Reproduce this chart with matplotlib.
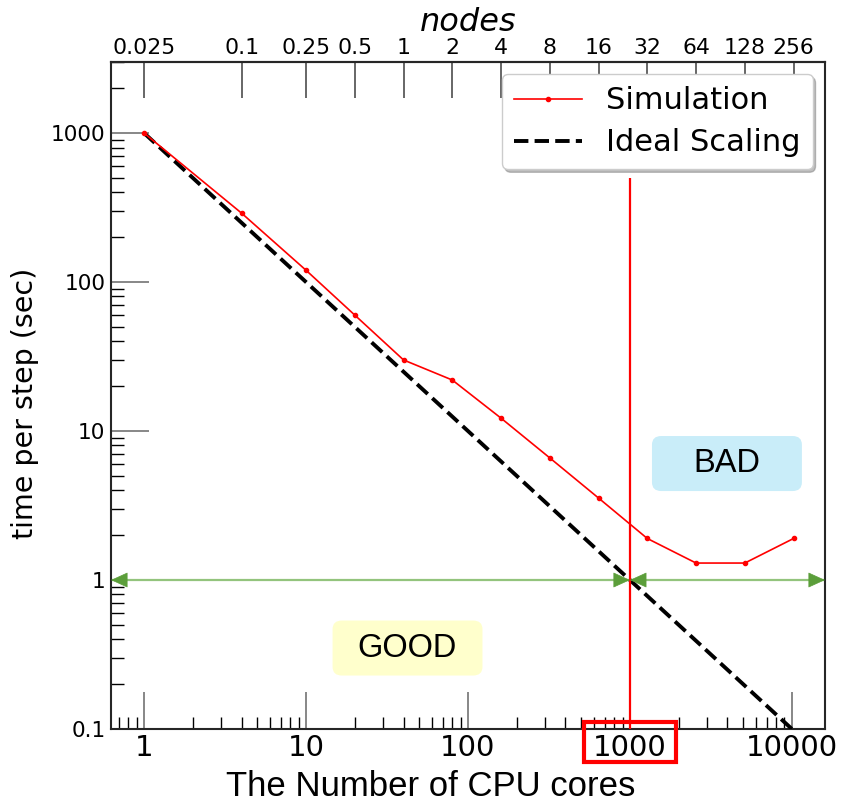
import matplotlib
matplotlib.use("Agg")
import matplotlib.pyplot as plt
from matplotlib.patches import FancyBboxPatch, Rectangle
from matplotlib.ticker import NullLocator, LogLocator
from matplotlib.transforms import IdentityTransform

# measured wall time per step against core count (40 cores per node)
cores = [1, 4, 10, 20, 40, 80, 160, 320, 640, 1280, 2560, 5120, 10240]
time_sim = [1000, 290, 120, 60, 30, 22, 12.2, 6.6, 3.55, 1.9, 1.3, 1.3, 1.9]
time_ideal = [1000 / c for c in cores]

cores_per_node = 40
node_ticks = [0.025, 0.1, 0.25, 0.5, 1, 2, 4, 8, 16, 32, 64, 128, 256]
node_labels = ["0.025", "0.1", "0.25", "0.5", "1", "2", "4", "8", "16", "32", "64", "128", "256"]
core_ticks = [1, 10, 100, 1000, 10000]
core_labels = ["1", "10", "100", "1000", "10000"]
time_ticks = [0.1, 1, 10, 100, 1000]
time_labels = ["0.1", "1", "10", "100", "1000"]

limit_cores = 1000
limit_top = 500

fig = plt.figure(figsize=(8.43, 8.05), dpi=100)
ax = fig.add_axes([0.1317, 0.0944, 0.8469, 0.8286])
ax.set_xscale("log")
ax.set_yscale("log")
ax.set_xlim(0.625, 16000)
ax.set_ylim(0.1, 3000)

ax.plot(cores, time_sim, color="red", lw=1.2, marker="o", ms=3,
        label="Simulation", zorder=4)
ax.plot(cores, time_ideal, color="black", lw=2.8, ls="--",
        label="Ideal Scaling", zorder=3)
ax.vlines(limit_cores, 0.1, limit_top, color="red", lw=1.6, zorder=5)

# good / bad region arrows at t = 1 sec
green_line = "#93c47d"
green_head = "#5b9e3a"
ax.axhline(1, color=green_line, lw=1.6, zorder=2)
head = dict(arrowstyle="-|>,head_length=1.1,head_width=0.5",
            fc=green_head, ec=green_head, lw=0.5, shrinkA=0, shrinkB=0)
for off in (-11, 11):
    ax.annotate("", xy=(limit_cores, 1), xytext=(off, 0),
                textcoords="offset points", arrowprops=head, zorder=6)
for xa, off in [(0, 11), (1, -11)]:
    ax.annotate("", xy=(xa, 1), xycoords=("axes fraction", "data"),
                xytext=(off, 0), textcoords="offset points",
                arrowprops=head, zorder=6, annotation_clip=False)

# region labels
for cx, cy, txt, fc in [(0.8627, 0.398, "BAD", "#c9edf9"),
                        (0.4153, 0.1214, "GOOD", "#ffffcc")]:
    w, h = 0.21, 0.0825
    box = FancyBboxPatch((cx - w / 2, cy - h / 2), w, h,
                         boxstyle="round,pad=0,rounding_size=0.013",
                         transform=ax.transAxes, fc=fc, ec="none", zorder=1)
    ax.add_patch(box)
    ax.text(cx, cy, txt, transform=ax.transAxes, ha="center", va="center",
            fontsize=23.5, family="Liberation Sans", zorder=2)

# axes styling
ax.set_xticks(core_ticks)
xlabels = ax.set_xticklabels(core_labels, fontsize=21)
ax.set_yticks(time_ticks)
ax.set_yticklabels(time_labels, fontsize=15.6)
ax.xaxis.set_minor_locator(LogLocator(base=10, subs=range(2, 10), numticks=20))
ax.yaxis.set_minor_locator(LogLocator(base=10, subs=range(2, 10), numticks=20))
ax.tick_params(which="major", direction="in", length=27, width=1.2,
               color="0.45", top=False, right=False)
ax.tick_params(axis="x", which="major", pad=3.5)
ax.tick_params(axis="y", which="major", pad=4)
ax.tick_params(which="minor", direction="in", length=9, width=1,
               color="black", top=False, right=False)
ax.xaxis.set_ticklabels([], minor=True)
ax.yaxis.set_ticklabels([], minor=True)
for s in ax.spines.values():
    s.set_linewidth(1.5)
    s.set_color("0.15")

ax.set_xlabel("The Number of CPU cores", fontsize=25, family="Liberation Sans")
ax.xaxis.set_label_coords(0.448, -0.062)
ax.set_ylabel("time per step (sec)", fontsize=20.5)
ax.yaxis.set_label_coords(-0.101, 0.488)

# nodes on the top axis
top = ax.secondary_xaxis("top", functions=(lambda c: c / cores_per_node,
                                           lambda n: n * cores_per_node))
top.set_xticks(node_ticks)
top.set_xticklabels(node_labels, fontsize=15.8)
top.xaxis.set_minor_locator(NullLocator())
top.tick_params(which="major", direction="in", length=26, width=1.2,
                color="0.3", pad=3)
top.spines["top"].set_linewidth(1.5)
top.set_xlabel("nodes", fontsize=23, style="italic", labelpad=5)

ax.legend(loc="upper right", fontsize=22,
          shadow={"color": "0.5", "alpha": 0.5}, fancybox=True,
          framealpha=1, edgecolor="0.8", borderaxespad=0.4,
          handlelength=2.2, handletextpad=0.8, labelspacing=0.42)

# red frame around the 1000-core tick label
fig.canvas.draw()
bb = xlabels[core_labels.index("1000")].get_window_extent()
fig.add_artist(Rectangle((bb.x0 - 9, bb.y1 - 28), bb.width + 18, 40,
                         transform=IdentityTransform(), fill=False,
                         ec="red", lw=3))

fig.savefig("out.png", dpi=100)
